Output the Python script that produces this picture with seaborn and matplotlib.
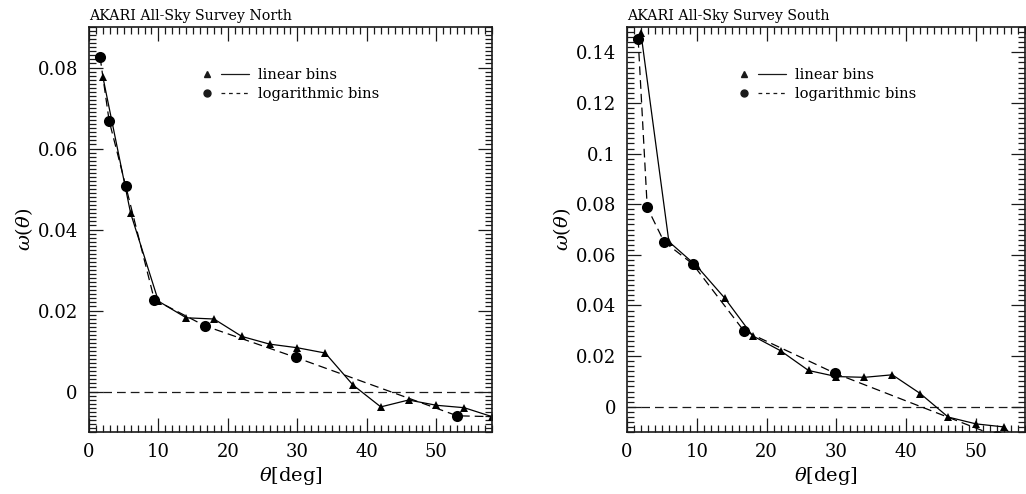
import numpy as np
import pandas as pd
import matplotlib
matplotlib.use("Agg")
import matplotlib.pyplot as plt
import seaborn as sns
from matplotlib.lines import Line2D
from matplotlib.legend_handler import HandlerTuple
from matplotlib.ticker import MultipleLocator

# angular bins [deg]
lin_theta = [2, 6, 10, 14, 18, 22, 26, 30, 34, 38, 42, 46, 50, 54, 58]
log_theta = [1.6, 2.9, 5.3, 9.4, 16.7, 29.8, 53.0, 94.3]

# w(theta), AKARI north
north_lin = [0.0777, 0.0440, 0.0223, 0.0182, 0.0179, 0.0136, 0.0117, 0.0108,
             0.0095, 0.0016, -0.0038, -0.0021, -0.0034, -0.0040, -0.0062]
north_log = [0.0826, 0.0669, 0.0507, 0.0227, 0.0162, 0.0084, -0.0060, -0.0077]

# w(theta), AKARI south
south_lin = [0.1475, 0.0652, 0.0555, 0.0429, 0.0280, 0.0221, 0.0143, 0.0119,
             0.0116, 0.0126, 0.0052, -0.0041, -0.0068, -0.0080, -0.0200]
south_log = [0.1453, 0.0787, 0.0652, 0.0564, 0.0301, 0.0132, -0.0117, -0.0300]

sns.set_theme(style="ticks")
plt.rcParams['font.family'] = ['DejaVu Serif']
plt.rcParams['mathtext.fontset'] = 'dejavuserif'
for key in ['text.color', 'axes.labelcolor', 'xtick.color', 'ytick.color',
            'axes.edgecolor']:
    plt.rcParams[key] = 'black'

DASH = (0, (7, 4))


def draw_panel(ax, lin_vals, log_vals, title, xmax, ylim, ymajor, yminor):
    lin = pd.DataFrame({'theta': lin_theta, 'w': lin_vals})
    log = pd.DataFrame({'theta': log_theta[:len(log_vals)], 'w': log_vals})

    ax.axhline(0, ls=DASH, color='k', lw=0.9, zorder=1)
    sns.lineplot(data=lin, x='theta', y='w', ax=ax, color='black', lw=0.9,
                 marker='^', markersize=6, markeredgewidth=0, sort=False)
    sns.lineplot(data=log, x='theta', y='w', ax=ax, color='black', lw=0.9,
                 marker='o', markersize=8, markeredgewidth=0, sort=False,
                 linestyle=DASH)

    ax.set_xlim(0, xmax)
    ax.set_ylim(*ylim)
    ax.xaxis.set_major_locator(MultipleLocator(10))
    ax.xaxis.set_minor_locator(MultipleLocator(1))
    ax.yaxis.set_major_locator(MultipleLocator(ymajor))
    ax.yaxis.set_minor_locator(MultipleLocator(yminor))
    ax.yaxis.set_major_formatter(plt.FuncFormatter(lambda v, p: f'{v:g}'))
    ax.tick_params(which='both', direction='in', top=True, right=True,
                   labelsize=13, width=0.9, color='k')
    ax.tick_params(which='major', length=10, pad=8)
    ax.tick_params(which='minor', length=5)
    for s in ax.spines.values():
        s.set_linewidth(1.2)
        s.set_color('k')

    ax.set_xlabel(r'$\theta$[deg]', fontsize=14, labelpad=3)
    ax.set_ylabel(r'$\omega(\theta)$', fontsize=14, labelpad=2)
    ax.set_title(title, loc='left', fontsize=10.2, pad=5)

    tri = Line2D([], [], color='k', marker='^', markersize=4, ls='none')
    dot = Line2D([], [], color='k', marker='o', markersize=5, ls='none')
    solid = Line2D([], [], color='k', lw=0.9)
    dashed = Line2D([], [], color='k', lw=0.9, ls=(0, (3, 3)))
    ax.legend([(tri, solid), (dot, dashed)], ['linear bins', 'logarithmic bins'],
              handler_map={tuple: HandlerTuple(ndivide=2, pad=0)},
              loc='upper left', bbox_to_anchor=(0.226, 0.93), frameon=False,
              fontsize=10.5, handlelength=3.84, handletextpad=0.6,
              labelspacing=0.3)


fig = plt.figure(figsize=(10.26, 4.94), dpi=100)
ax1 = fig.add_axes([0.0867, 0.1255, 0.3928, 0.8198])
ax2 = fig.add_axes([0.6111, 0.1255, 0.3879, 0.8198])

draw_panel(ax1, north_lin, north_log, 'AKARI All-Sky Survey North',
           58, (-0.01, 0.09), 0.02, 0.001)
draw_panel(ax2, south_lin, south_log, 'AKARI All-Sky Survey South',
           57, (-0.01, 0.15), 0.02, 0.002)

fig.savefig('out.png', dpi=100)
